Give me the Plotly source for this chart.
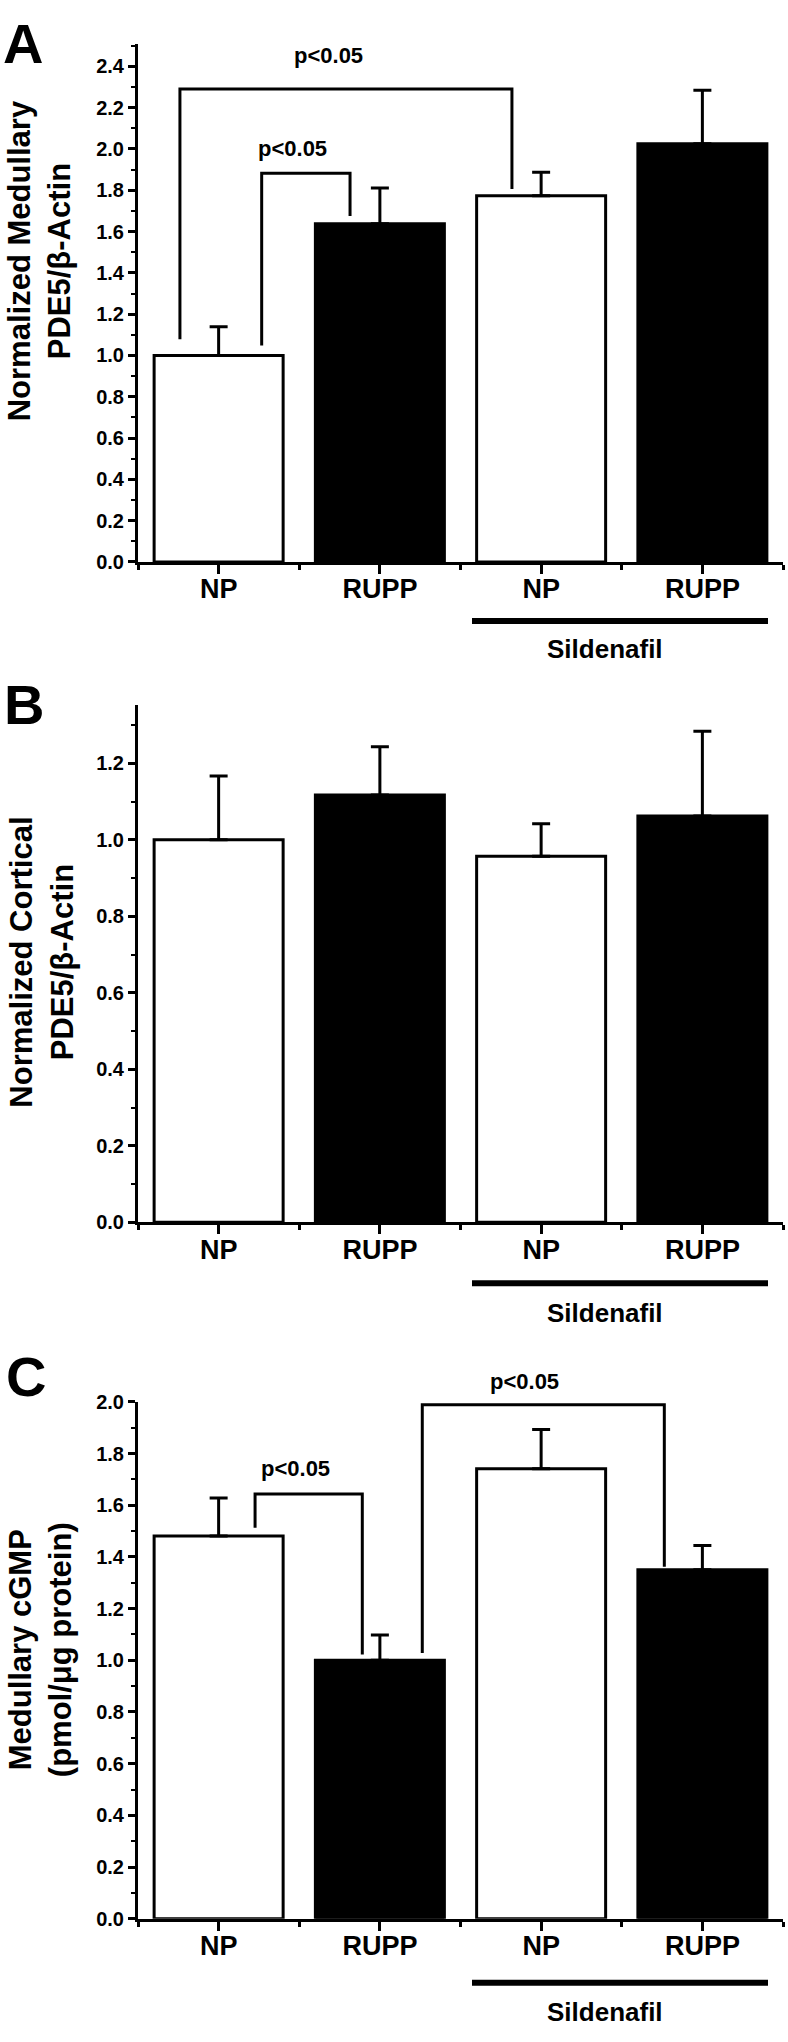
import plotly.graph_objects as go

W, H = 788, 2042

# ---------------- data ----------------
categories = ["NP", "RUPP", "NP", "RUPP"]
bar_colors = ["white", "black", "white", "black"]

a_means = [1.000, 1.638, 1.774, 2.025]
a_err = [0.139, 0.173, 0.113, 0.259]
b_means = [1.000, 1.117, 0.957, 1.062]
b_err = [0.167, 0.126, 0.085, 0.222]
c_means = [1.481, 1.000, 1.741, 1.350]
c_err = [0.147, 0.098, 0.152, 0.094]

# significance brackets: [x_left, y_left_end, x_right, y_right_end, y_top, label_x, label_y]
a_brackets = [[0.767, 1.048, 1.315, 1.675, 1.883, 0.96, 2.00],
              [0.26, 1.079, 2.319, 1.806, 2.290, 1.18, 2.452]]
b_brackets = []
c_brackets = [[0.726, 1.513, 1.391, 1.022, 1.643, 0.974, 1.742],
              [1.763, 1.028, 3.264, 1.362, 1.989, 2.394, 2.08]]

y_titles = ["Normalized Medullary<br>PDE5/β-Actin",
            "Normalized Cortical<br>PDE5/β-Actin",
            "Medullary cGMP<br>(pmol/μg protein)"]
panel_letters = ["A", "B", "C"]
y_ranges = [[0, 2.51], [0, 1.352], [0, 2.0]]
sig_label = "p<0.05"
group_label = "Sildenafil"

# ---------------- layout (pixels) ----------------
FONT = "Liberation Sans, Arial, sans-serif"
left_px, right_px = 138, 783
panels_px = [(33, 557), (701.7, 1224.5), (1406, 1928.5)]
title_px = [(39, 253), (42, 962), (40, 1657)]
letter_px = [(23, 33), (24, 701), (26, 1380)]
sild_line_off = [59.7, 61.5, 64.8]
sild_text_off = [88, 92, 94.5]
sild_x_px = (472, 768)
sild_text_x_px = 604.5


def pxx(p):
    return p / W


def pxy(p):
    return 1 - p / H


panels = [(a_means, a_err, a_brackets), (b_means, b_err, b_brackets), (c_means, c_err, c_brackets)]
xpos = [i + 0.5 for i in range(len(categories))]

fig = go.Figure()
layout = dict(
    width=W, height=H, margin=dict(l=0, r=0, t=0, b=0),
    paper_bgcolor="white", plot_bgcolor="white", showlegend=False,
    font=dict(family=FONT, color="black"),
)
annotations = []
shapes = []

for i, (means, errs, brackets) in enumerate(panels):
    sfx = "" if i == 0 else str(i + 1)
    xa, ya = "x" + sfx, "y" + sfx
    top, bot = panels_px[i]
    r0, r1 = y_ranges[i]
    fig.add_trace(go.Bar(
        x=xpos, y=means, width=0.8,
        marker=dict(color=bar_colors, line=dict(color="black", width=3)),
        error_y=dict(type="data", array=errs, arrayminus=[0] * len(errs), symmetric=False,
                     color="black", thickness=3, width=9),
        xaxis=xa, yaxis=ya, hoverinfo="skip",
    ))
    for br in brackets:
        xl, yl, xr, yr, yt, lx, ly = br
        fig.add_trace(go.Scatter(
            x=[xl, xl, xr, xr], y=[yl, yt, yt, yr], mode="lines",
            line=dict(color="black", width=3), xaxis=xa, yaxis=ya, hoverinfo="skip",
        ))
        annotations.append(dict(x=lx / 4.0, y=(ly - r0) / (r1 - r0), xref=xa + " domain", yref=ya + " domain",
                                text=sig_label, showarrow=False, xanchor="center", yanchor="middle",
                                font=dict(size=22, family=FONT, weight="bold", color="black")))

    layout["xaxis" + sfx] = dict(
        domain=[pxx(left_px), pxx(right_px)], range=[0, 4], anchor=ya,
        showline=True, linewidth=3, linecolor="black", mirror=False,
        ticks="outside", tickvals=xpos, ticktext=categories, ticklen=9, tickwidth=3, tickcolor="black",
        tickfont=dict(size=27, family=FONT, weight="bold", color="black"),
        ticklabelstandoff=-8,
        minor=dict(tickvals=[0, 1, 2, 3, 4], ticks="outside", ticklen=5, tickwidth=3, tickcolor="black"),
        showgrid=False, zeroline=False, fixedrange=True,
    )
    layout["yaxis" + sfx] = dict(
        domain=[pxy(bot), pxy(top)], range=y_ranges[i], anchor=xa,
        showline=True, linewidth=3, linecolor="black",
        ticks="outside", tick0=0, dtick=0.2, tickformat=".1f", ticklen=7, tickwidth=3, tickcolor="black",
        tickfont=dict(size=20, family=FONT, weight="bold", color="black"),
        minor=dict(tick0=0, dtick=0.1, ticks="outside", ticklen=4, tickwidth=2, tickcolor="black"),
        showgrid=False, zeroline=False, fixedrange=True,
    )

    # Sildenafil group line + label
    ly_px = bot + sild_line_off[i]
    shapes.append(dict(type="line", xref="paper", yref="paper",
                       x0=pxx(sild_x_px[0]), x1=pxx(sild_x_px[1]), y0=pxy(ly_px), y1=pxy(ly_px),
                       line=dict(color="black", width=6)))
    annotations.append(dict(x=pxx(sild_text_x_px), y=pxy(bot + sild_text_off[i]), xref="paper", yref="paper",
                            text=group_label, showarrow=False, xanchor="center", yanchor="middle",
                            font=dict(size=26, family=FONT, weight="bold", color="black")))
    # y-axis title
    tx, ty = title_px[i]
    annotations.append(dict(x=pxx(tx), y=pxy(ty), xref="paper", yref="paper", text=y_titles[i],
                            textangle=-90, showarrow=False, xanchor="center", yanchor="middle",
                            font=dict(size=31, family=FONT, weight="bold", color="black")))
    # panel letter
    lx_, ly_ = letter_px[i]
    annotations.append(dict(x=pxx(lx_), y=pxy(ly_), xref="paper", yref="paper", text=panel_letters[i],
                            showarrow=False, xanchor="center", yanchor="middle",
                            font=dict(size=56, family=FONT, weight="bold", color="black")))

layout["annotations"] = annotations
layout["shapes"] = shapes
fig.update_layout(**layout)

fig.write_html("out.html", config={"displayModeBar": False},
               post_script="document.body.style.margin='0';")
